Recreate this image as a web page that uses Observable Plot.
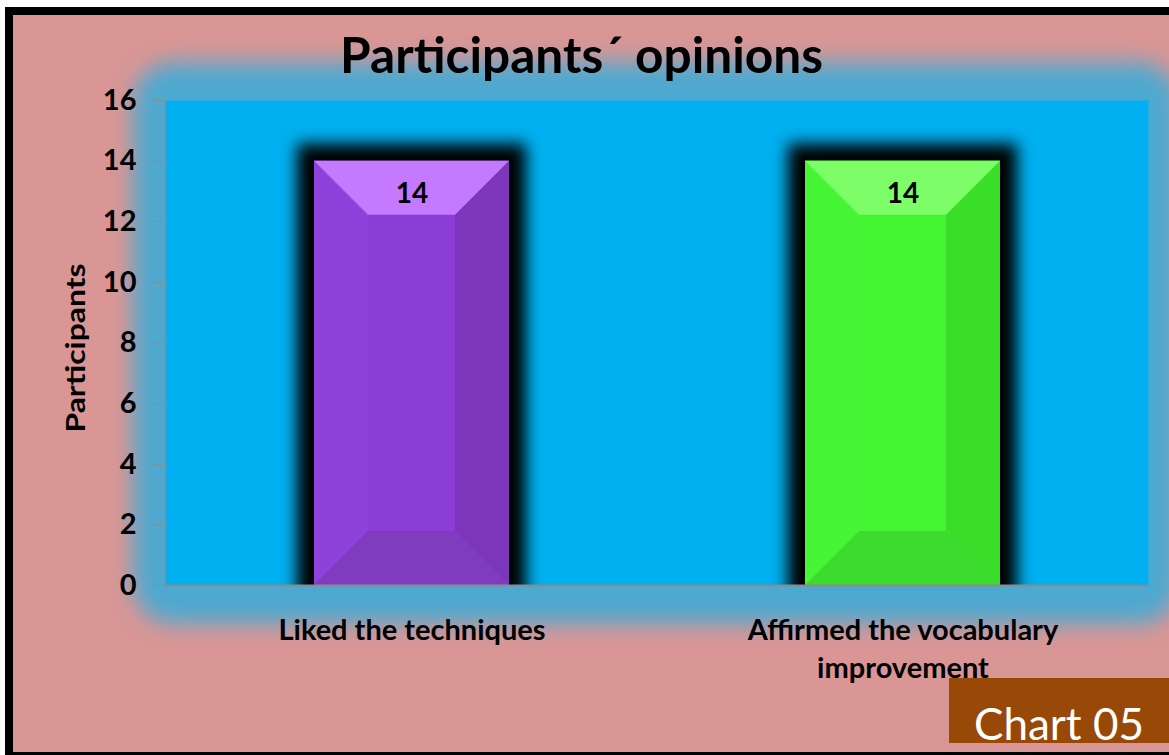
<!DOCTYPE html>
<html>
<head>
<meta charset="utf-8">
<script src="https://cdn.jsdelivr.net/npm/d3@7"></script>
<script src="https://cdn.jsdelivr.net/npm/@observablehq/plot@0.6"></script>
<style>
  html, body { margin: 0; padding: 0; background: #fff; overflow: hidden; width: 1169px; height: 755px; }
  #frame { position: absolute; left: 5px; top: 7px; width: 1185px; height: 753px; box-sizing: border-box; border: 8px solid #000; background: #d99694; }
  #badge { position: absolute; left: 949px; top: 678px; width: 230px; height: 65px; background: #984807; }
  #badge span { position: absolute; left: 0; width: 220px; top: 23px; text-align: center; font: 44px Lato, "Open Sans", sans-serif; line-height: 1; color: #fff; white-space: nowrap; }
  #chart { position: absolute; left: 0; top: 0; }
  #title { position: absolute; left: 0; top: 29px; width: 1163px; text-align: center; font: bold 50px Lato, "Open Sans", sans-serif; line-height: 1; color: #000; white-space: nowrap; }
  #title span { display: inline-block; transform-origin: center; }
</style>
</head>
<body>
<svg width="0" height="0" style="position:absolute">
  <defs>
    <filter id="barGlow" x="-30%" y="-30%" width="160%" height="160%">
      <feMorphology in="SourceAlpha" operator="dilate" radius="17" result="d"/>
      <feGaussianBlur in="d" stdDeviation="8"/>
    </filter>
    <filter id="areaGlow" x="-20%" y="-20%" width="140%" height="140%">
      <feGaussianBlur in="SourceGraphic" stdDeviation="11"/>
    </filter>
  </defs>
</svg>
<div id="frame"></div>
<div id="badge"><span>Chart 05</span></div>
<div id="chart"></div>
<div id="title"><span>Participants´ opinions</span></div>
<script>
// ---- data ----
const categories = ["Liked the techniques", "Affirmed the vocabulary improvement"];
const participants = [14, 14];
const yTicks = [0, 2, 4, 6, 8, 10, 12, 14, 16];
const xTickLabels = ["Liked the techniques", "Affirmed the vocabulary\nimprovement"];
const yLabel = "Participants";

// ---- styles ----
const faceColors = ["#8b3dd5", "#44f532"];
const bevelColors = [
  {top: "#c579fe", left: "#8f42d9", right: "#7b36bb", bottom: "#803cbf"},
  {top: "#7dfe69", left: "#47f535", right: "#3add28", bottom: "#3ddb2d"}
];
const bevel = 54;
const fontFamily = "Lato, 'Open Sans', sans-serif";

const data = categories.map((c, i) => ({category: c, value: participants[i]}));

const chart = Plot.plot({
  width: 1169,
  height: 755,
  marginLeft: 165,
  marginRight: 21,
  marginTop: 100,
  marginBottom: 170,
  style: {background: "transparent", color: "#000", fontFamily: fontFamily},
  x: {domain: categories, paddingInner: 0.603, paddingOuter: 0.3015, label: null},
  y: {domain: [0, 16], label: null},
  color: {domain: categories, range: faceColors},
  marks: [
    Plot.frame({fill: "#4ea9d0", insetLeft: -32, insetRight: -30, insetTop: -38, insetBottom: -38, rx: 40, className: "plot-glow"}),
    Plot.frame({fill: "#00b0f0"}),
    Plot.barY(data, {x: "category", y: "value", fill: "#000", clip: true, className: "bar-shadow"}),
    Plot.barY(data, {x: "category", y: "value", fill: "category", className: "bar-main"}),
    Plot.ruleY([0], {stroke: "#8c8c8c", strokeWidth: 2}),
    Plot.frame({anchor: "left", stroke: "#8c8c8c", strokeWidth: 1.5}),
    Plot.axisY({ticks: yTicks, tickSize: 12, tickPadding: 17, fontSize: 29, fontWeight: "bold", stroke: "#8c8c8c", label: null}),
    Plot.axisX({tickSize: 0, tickPadding: 28, fontSize: 29, fontWeight: "bold", lineHeight: 1.31, label: null,
      tickFormat: d => xTickLabels[categories.indexOf(d)]}),
    Plot.text(data, {x: "category", y: "value", text: d => String(d.value), dy: 33, fontSize: 28, fontWeight: "bold", fill: "#000", lineAnchor: "middle"}),
    Plot.text([yLabel], {frameAnchor: "left", text: d => d, rotate: -90, dx: -89, dy: 5, fontSize: 26, fontWeight: "bold", fill: "#000", textAnchor: "middle", lineAnchor: "middle", className: "y-label"})
  ]
});
document.getElementById("chart").appendChild(chart);

// glow filters
const glowEl = chart.querySelector(".plot-glow");
if (glowEl) glowEl.setAttribute("filter", "url(#areaGlow)");
let shadowG = chart.querySelector(".bar-shadow");
let mainG = chart.querySelector(".bar-main");
const barGs = chart.querySelectorAll('g[aria-label="bar"]');
if (!shadowG && barGs.length >= 2) shadowG = barGs[0];
if (!mainG && barGs.length >= 2) mainG = barGs[1];
if (shadowG) shadowG.setAttribute("filter", "url(#barGlow)");

// bevel faces, derived from the rendered bars
if (mainG) {
  const ns = "http://www.w3.org/2000/svg";
  mainG.querySelectorAll("rect").forEach((r, i) => {
    const x = +r.getAttribute("x"), y = +r.getAttribute("y");
    const w = +r.getAttribute("width"), h = +r.getAttribute("height");
    const b = Math.min(bevel, w / 2, h / 2);
    const c = bevelColors[i % bevelColors.length];
    const faces = [
      [c.left,   [[x, y], [x + b, y + b], [x + b, y + h - b], [x, y + h]]],
      [c.right,  [[x + w, y], [x + w - b, y + b], [x + w - b, y + h - b], [x + w, y + h]]],
      [c.top,    [[x, y], [x + w, y], [x + w - b, y + b], [x + b, y + b]]],
      [c.bottom, [[x, y + h], [x + w, y + h], [x + w - b, y + h - b], [x + b, y + h - b]]]
    ];
    faces.forEach(([fill, pts]) => {
      const p = document.createElementNS(ns, "polygon");
      p.setAttribute("points", pts.map(q => q.join(",")).join(" "));
      p.setAttribute("fill", fill);
      r.parentNode.appendChild(p);
    });
  });
}

// stretch the y label to the reference length
const yl = chart.querySelector(".y-label text") || chart.querySelector("text.y-label");
if (yl) { yl.setAttribute("textLength", 169); yl.setAttribute("lengthAdjust", "spacingAndGlyphs"); }

// fit title width
const ts = document.querySelector("#title span");
const tw = ts.getBoundingClientRect().width;
if (tw > 0) ts.style.transform = `scaleX(${483 / tw})`;
</script>
</body>
</html>
